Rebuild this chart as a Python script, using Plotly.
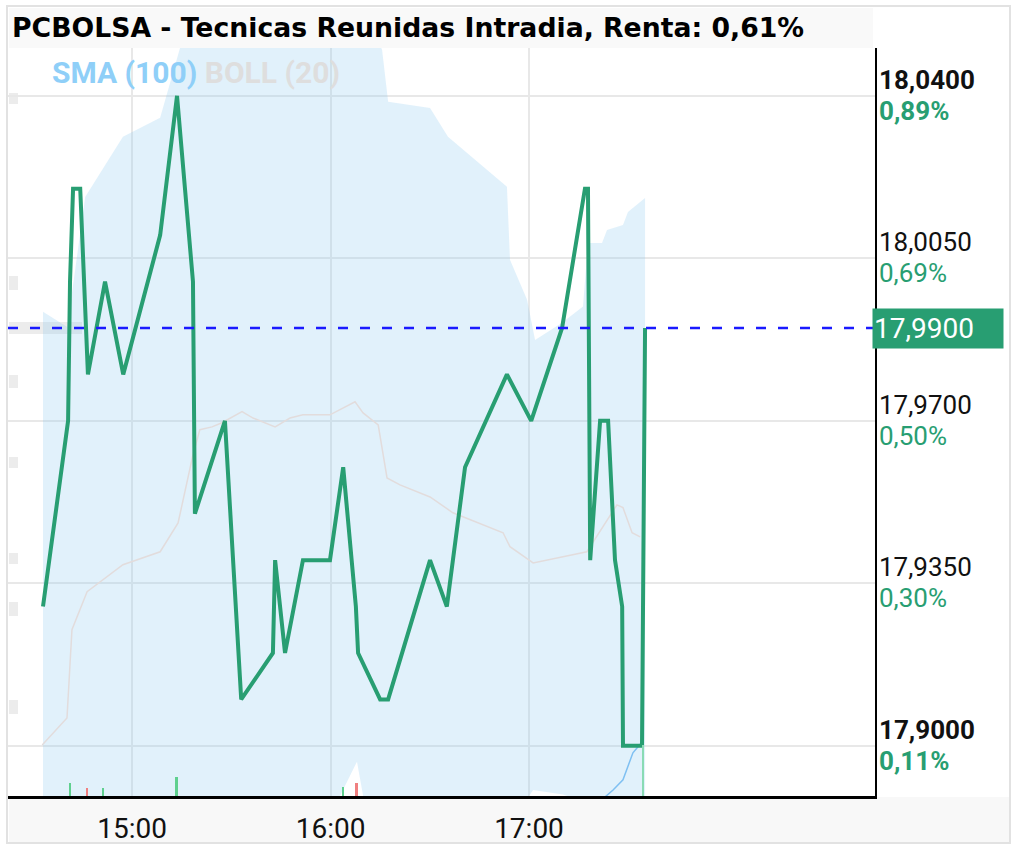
import plotly.graph_objects as go

DAY = "2023-06-01 "

# ---- main price series (intraday) ----
price_times = ["14:33:05", "14:40:40", "14:41:15", "14:42:10", "14:44:20", "14:46:40",
               "14:51:50", "14:57:20", "15:08:30", "15:13:36", "15:16:00", "15:18:25",
               "15:19:00", "15:28:05", "15:33:00", "15:42:35", "15:43:15", "15:46:15",
               "15:51:40", "15:59:50", "16:03:50", "16:07:40", "16:08:20", "16:15:00",
               "16:17:25", "16:30:05", "16:35:10", "16:40:40", "16:53:20", "17:00:40",
               "17:10:00", "17:16:55", "17:17:50", "17:18:30", "17:21:30", "17:23:55",
               "17:26:00", "17:28:10", "17:28:25", "17:34:10", "17:35:05"]
price_values = [17.93, 17.97, 18.00, 18.02, 18.02, 17.98,
                18.00, 17.98, 18.01, 18.04, 18.02, 18.00,
                17.95, 17.97, 17.91, 17.92, 17.94, 17.92,
                17.94, 17.94, 17.96, 17.93, 17.92, 17.91,
                17.91, 17.94, 17.93, 17.96, 17.98, 17.97,
                17.99, 18.02, 18.02, 17.94, 17.97, 17.97,
                17.94, 17.93, 17.90, 17.90, 17.99]

last_price = 17.99

# ---- Bollinger (20) upper / lower / middle ----
boll_up_times = ["14:33:05", "14:40:25", "14:45:50", "14:57:15", "15:08:30", "15:14:30",
                 "15:17:30", "16:12:00", "16:15:35", "16:17:25", "16:30:05", "16:35:30",
                 "16:53:20", "16:54:15", "16:59:25", "17:01:50", "17:10:00", "17:16:20",
                 "17:17:50", "17:22:05", "17:23:35", "17:28:25", "17:29:55", "17:35:05"]
boll_up_values = [17.9935, 17.9902, 18.0182, 18.0312, 18.0353, 18.0503,
                  18.0560, 18.0560, 18.0499, 18.0387, 18.0374, 18.0312,
                  18.0204, 18.0047, 17.9961, 17.9874, 17.9911, 17.9946,
                  18.0083, 18.0083, 18.0111, 18.0122, 18.0150, 18.0180]

boll_low_times = ["14:33:05", "15:05:25", "15:50:47", "16:01:20", "16:08:00", "16:10:25",
                  "16:27:05", "16:51:15", "17:01:15", "17:10:15", "17:21:30", "17:35:05"]
boll_low_values = [17.860, 17.862, 17.875, 17.887, 17.8966, 17.887,
                   17.875, 17.880, 17.8905, 17.8895, 17.887, 17.875]

boll_mid_times = ["14:32:50", "14:40:20", "14:41:50", "14:46:25", "14:57:15", "15:08:30",
                  "15:13:55", "15:18:25", "15:20:30", "15:24:10", "15:27:10", "15:33:15",
                  "15:36:35", "15:43:15", "15:47:45", "15:51:40", "15:59:50", "16:07:25",
                  "16:09:50", "16:14:25", "16:17:05", "16:21:00", "16:30:05", "16:37:00",
                  "16:52:10", "16:54:15", "17:01:15", "17:17:30", "17:26:35", "17:28:25",
                  "17:31:10", "17:33:35"]
boll_mid_values = [17.9002, 17.9060, 17.9250, 17.9332, 17.9390, 17.9418,
                   17.9480, 17.9627, 17.9681, 17.9687, 17.9696, 17.9720,
                   17.9706, 17.9687, 17.9706, 17.9713, 17.9713, 17.9741,
                   17.9717, 17.9691, 17.9577, 17.9562, 17.9536, 17.9502,
                   17.9459, 17.9429, 17.9394, 17.9418, 17.9519, 17.9513,
                   17.9459, 17.9450]

# ---- SMA (100) ----
sma_times = ["17:23:00", "17:25:25", "17:28:25", "17:31:25", "17:34:30"]
sma_values = [17.8890, 17.8905, 17.8927, 17.8985, 17.9011]

# ---- volume ----
vol_times = ["14:41:15", "14:46:25", "14:51:15", "15:13:35", "16:03:50", "16:08:00", "17:34:30"]
vol_values = [1300, 800, 800, 1900, 900, 1300, 5100]
vol_colors = ["#5fd08f", "#f08080", "#5fd08f", "#5fd08f", "#5fd08f", "#f08080", "#8adbb4"]

# ---- axis ticks ----
y_ticks = [18.04, 18.005, 17.97, 17.935, 17.90]
y_price_labels = ["18,0400", "18,0050", "17,9700", "17,9350", "17,9000"]
y_pct_labels = ["0,89%", "0,69%", "0,50%", "0,30%", "0,11%"]
y_bold = [True, False, False, False, True]
x_ticks = ["15:00:00", "16:00:00", "17:00:00"]
x_tick_labels = ["15:00", "16:00", "17:00"]

title_text = "PCBOLSA - Tecnicas Reunidas Intradia, Renta: 0,61%"

GREEN = "#289e72"


def ts(lst):
    return [DAY + t for t in lst]


fig = go.Figure()

# Bollinger band fill
band_x = ts(boll_up_times) + ts(boll_low_times)[::-1]
band_y = boll_up_values + boll_low_values[::-1]
fig.add_trace(go.Scatter(x=band_x, y=band_y, fill="toself", mode="none",
                         fillcolor="rgba(135,200,240,0.25)", hoverinfo="skip",
                         showlegend=False))
# Bollinger mid line
fig.add_trace(go.Scatter(x=ts(boll_mid_times), y=boll_mid_values, mode="lines",
                         line=dict(color="#e2dcdc", width=1.5), showlegend=False))
# SMA line
fig.add_trace(go.Scatter(x=ts(sma_times), y=sma_values, mode="lines",
                         line=dict(color="#7fc0f2", width=1.5), showlegend=False))
# volume
fig.add_trace(go.Bar(x=ts(vol_times), y=vol_values, marker_color=vol_colors,
                     marker_line_width=0, width=36000, yaxis="y2", showlegend=False))
# price line
fig.add_trace(go.Scatter(x=ts(price_times), y=price_values, mode="lines",
                         line=dict(color=GREEN, width=4), showlegend=False))

# pixel helpers for decoration (plot area: x 8..875, y 48..796)
L, R, T, B = 8, 875, 48, 796


def px(xp):
    return (xp - L) / (R - L)


def py(yp):
    return (B - yp) / (B - T)


shapes = []
# outer frame
shapes.append(dict(type="rect", xref="paper", yref="paper", x0=px(7), x1=px(1010),
                   y0=py(843), y1=py(6), line=dict(color="#e2e2e2", width=2), layer="below"))
# title bar
shapes.append(dict(type="rect", xref="paper", yref="paper", x0=px(9), x1=px(873),
                   y0=py(48), y1=py(8), fillcolor="#f9f9f9", line=dict(width=0), layer="below"))
# bottom bar
shapes.append(dict(type="rect", xref="paper", yref="paper", x0=px(9), x1=px(1009),
                   y0=py(842), y1=py(797), fillcolor="#f8f8f8", line=dict(width=0), layer="below"))
# faint left edge marks
for (a, b) in [(93, 104), (276, 290), (375, 388), (457, 468), (553, 564), (602, 616), (700, 714)]:
    shapes.append(dict(type="rect", xref="paper", yref="paper", x0=px(9), x1=px(18),
                       y0=py(b), y1=py(a), fillcolor="#ececec", line=dict(width=0), layer="below"))
shapes.append(dict(type="rect", xref="paper", yref="paper", x0=px(9), x1=px(82),
                   y0=py(334), y1=py(322), fillcolor="#ececec", line=dict(width=0), layer="below"))
# last price dashed line
shapes.append(dict(type="line", xref="paper", yref="y", x0=0, x1=1, y0=last_price, y1=last_price,
                   line=dict(color="#1a1aff", width=2.5, dash="10px,12px"), layer="above"))

annotations = []
for v, pl, pc, bold in zip(y_ticks, y_price_labels, y_pct_labels, y_bold):
    t1 = f"<b>{pl}</b>" if bold else pl
    t2 = f"<b>{pc}</b>" if bold else pc
    annotations.append(dict(x=1, xref="paper", y=v, yref="y", xanchor="left", yanchor="middle",
                            xshift=3, yshift=16, text=t1, showarrow=False,
                            borderpad=0, valign="middle",
                            font=dict(family="Roboto", size=26, color="#111111")))
    annotations.append(dict(x=1, xref="paper", y=v, yref="y", xanchor="left", yanchor="middle",
                            xshift=3, yshift=-15, text=t2, showarrow=False,
                            borderpad=0, valign="middle",
                            font=dict(family="Roboto", size=26, color=GREEN)))
# current price box
annotations.append(dict(x=1, xref="paper", y=last_price, yref="y", xanchor="left", yanchor="middle",
                        xshift=-3, yshift=-1, text="17,9900", showarrow=False, bgcolor=GREEN,
                        width=128, height=37, align="left", borderpad=1,
                        font=dict(family="Roboto", size=28, color="white")))
# indicator legend
annotations.append(dict(x=px(50), xref="paper", y=py(72), yref="paper", xanchor="left",
                        yanchor="middle", showarrow=False,
                        text="<b><span style='color:#8fcff8'>SMA (100)</span> "
                             "<span style='color:#dedede'>BOLL (20)</span></b>",
                        font=dict(family="Roboto", size=30)))

fig.update_layout(
    width=1017, height=851, autosize=False,
    margin=dict(l=L, r=1017 - R, t=T, b=851 - B, pad=0),
    paper_bgcolor="white", plot_bgcolor="rgba(0,0,0,0)",
    title=dict(text=f"<b>{title_text}</b>", xref="container", yref="container",
               x=12 / 1017, y=1 - 28 / 851, xanchor="left", yanchor="middle",
               automargin=False,
               font=dict(family="DejaVu Sans", size=26.7, color="black")),
    xaxis=dict(type="date", range=[DAY + "14:22:30", DAY + "18:44:36"],
               tickvals=ts(x_ticks), ticktext=x_tick_labels, automargin=False,
               showgrid=True, gridcolor="#e8e8e8", gridwidth=2,
               showline=True, linecolor="black", linewidth=3,
               ticks="outside", ticklen=5, tickcolor="rgba(0,0,0,0)",
               tickfont=dict(family="Roboto", size=28, color="#111111"),
               zeroline=False, fixedrange=True),
    yaxis=dict(range=[17.8892, 18.0503], side="right", tickvals=y_ticks, automargin=False,
               showticklabels=False, showgrid=True, gridcolor="#e8e8e8", gridwidth=2,
               showline=True, linecolor="black", linewidth=2, zeroline=False, ticks=""),
    yaxis2=dict(range=[0, 74800], overlaying="y", visible=False, fixedrange=True,
                automargin=False),
    bargap=0,
    shapes=shapes, annotations=annotations,
    showlegend=False,
)

fig.write_html("out.html", config={"displayModeBar": False},
               post_script="document.body.style.margin='0';document.body.style.overflow='hidden';")
